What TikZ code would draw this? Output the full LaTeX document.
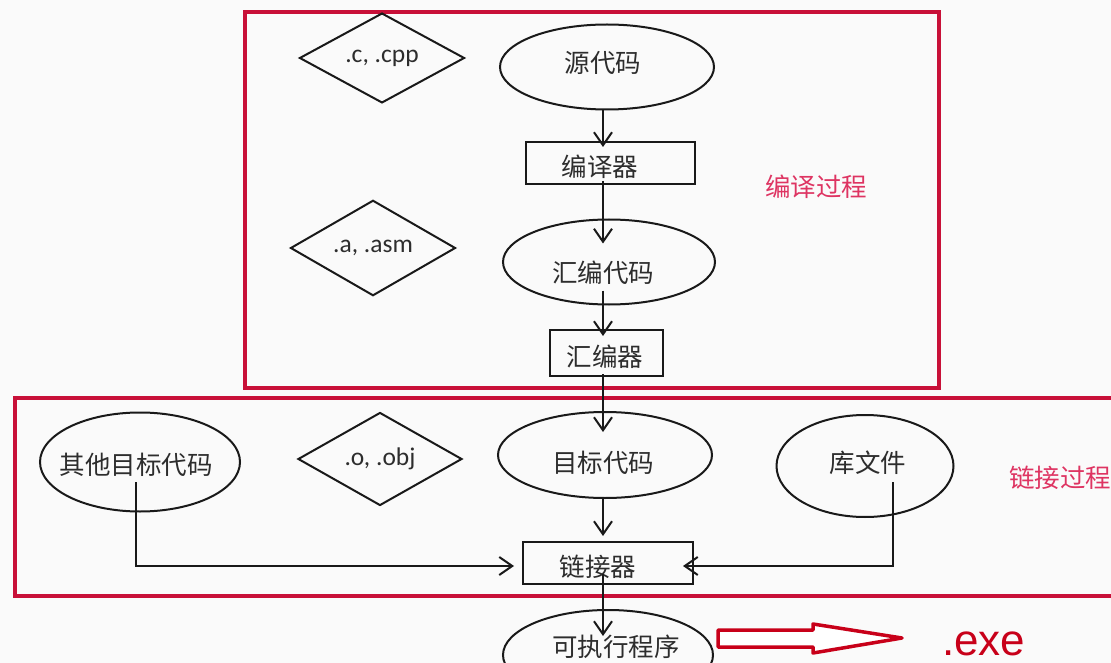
\documentclass[tikz,border=0pt]{standalone}
\usepackage{fontspec}
\setmainfont{Carlito}
\newfontfamily\cjk{Noto Sans CJK SC}
\newfontfamily\arialf{Liberation Sans}
\usetikzlibrary{shapes.geometric,arrows.meta,calc}
\definecolor{frame}{RGB}{200,16,56}
\definecolor{lbl}{RGB}{222,52,98}
\definecolor{exered}{RGB}{200,0,25}
\definecolor{ink}{RGB}{25,25,25}
\definecolor{txt}{RGB}{45,45,45}
\definecolor{bg}{RGB}{250,250,250}
\begin{document}
\begin{tikzpicture}[x=1pt,y=-1pt,
 elli/.style={ellipse,draw=ink,line width=2pt,inner sep=0pt},
 dia/.style={diamond,draw=ink,line width=2pt,inner sep=0pt,minimum width=165pt,minimum height=82pt,font=\fontsize{25.5}{30}\selectfont,text=txt},
 boxn/.style={rectangle,draw=ink,line width=2pt,inner sep=0pt},
 ctext/.style={font=\cjk\fontsize{25.5}{30}\selectfont,text=txt,inner sep=0pt},
 arr/.style={draw=ink,line width=2pt,-{Straight Barb[length=13pt,width=18pt]}},
 redframe/.style={draw=frame,line width=4pt},
 redlbl/.style={font=\cjk\fontsize{25.5}{30}\selectfont,text=lbl,inner sep=0pt},
]
\useasboundingbox (0,0) rectangle (1111,663);
\clip (0,0) rectangle (1111,663);
\fill[bg] (0,0) rectangle (1111,663);

% frames
\draw[redframe] (245,12) rectangle (939,388);
\draw[redframe] (15,398) rectangle (1130,596);

\coordinate (colx) at (603,0);

% compile part
\node[dia] (d1) at (382,58) {.c, .cpp};
\node[elli,minimum width=214pt,minimum height=85pt,
      label={[ctext,name=srct,yshift=4pt,xshift=-4pt]center:源代码}] (src) at (607,67) {};
\node[boxn,minimum width=169pt,minimum height=42pt,
      label={[ctext,name=compt,yshift=-4pt,xshift=-10pt]center:编译器}] (comp) at (610,163) {};
\node[redlbl] (lab1) at (816,187) {编译过程};
\node[dia] (d2) at (373,248) {.a, .asm};
\node[elli,minimum width=212pt,minimum height=85pt,
      label={[ctext,name=asmt,yshift=-11pt,xshift=-6pt]center:汇编代码}] (asm) at (609,262) {};
\node[boxn,minimum width=113pt,minimum height=46pt,
      label={[ctext,name=asmrt,yshift=-4pt,xshift=-1pt]center:汇编器}] (asmr) at (606,353) {};

% link part
\node[elli,minimum width=200pt,minimum height=99pt,
      label={[ctext,name=othert,yshift=-3pt,xshift=-4pt]center:其他目标代码}] (other) at (140,462) {};
\node[dia,minimum width=164pt] (d3) at (380,459) {.o, .obj};
\node[elli,minimum width=214pt,minimum height=86pt,
      label={[ctext,name=objt,yshift=-8pt,xshift=-2pt]center:目标代码}] (obj) at (605,455) {};
\node[elli,minimum width=177pt,minimum height=102pt,
      label={[ctext,name=libt,yshift=3pt,xshift=3pt]center:库文件}] (lib) at (865,466) {};
\node[redlbl] (lab2) at (1060,478) {链接过程};
\node[boxn,minimum width=170pt,minimum height=42pt,
      label={[ctext,name=linkt,yshift=-4pt,xshift=-10pt]center:链接器}] (link) at (608,563) {};
\node[elli,minimum width=210pt,minimum height=90pt,
      label={[ctext,name=exet,yshift=8pt,xshift=8pt]center:可执行程序}] (exe) at (608,655) {};

% connectors
\draw[arr] (src.south -| colx) -- ($(comp.north -| colx)+(0,6)$);
\draw[arr] ($(comp.south -| colx)+(0,-4)$) -- ($(asm.north -| colx)+(0,25)$);
\draw[arr] ($(asm.south -| colx)+(0,-15)$) -- ($(asmr.north -| colx)+(0,7)$);
\draw[arr] ($(asmr.south -| colx)+(0,-3)$) -- ($(obj.north -| colx)+(0,21)$);
\draw[arr] ($(obj.south -| colx)+(0,-1)$) -- ($(link.north -| colx)+(0,-5)$);
\draw[arr] ($(link.south -| colx)+(0,-11)$) -- ($(exe.north -| colx)+(0,27)$);
\draw[arr] ($(other.center)+(-4,20)$) |- ($(link.west)+(-8,3)$);
\draw[arr] ($(lib.center)+(28,16)$) |- ($(link.east)+(-11,3)$);

% big hollow arrow and .exe
\draw[draw=exered,line width=3.5pt,fill=white,line join=round]
  (718,630) -- (813,630) -- (813,624) -- (902,638) -- (813,653) -- (813,647) -- (718,647) -- cycle;
\node[font=\arialf\fontsize{44}{50}\selectfont,text=exered,anchor=base west,inner sep=0pt] (exetxt) at (942,655) {.exe};
\end{tikzpicture}
\end{document}
